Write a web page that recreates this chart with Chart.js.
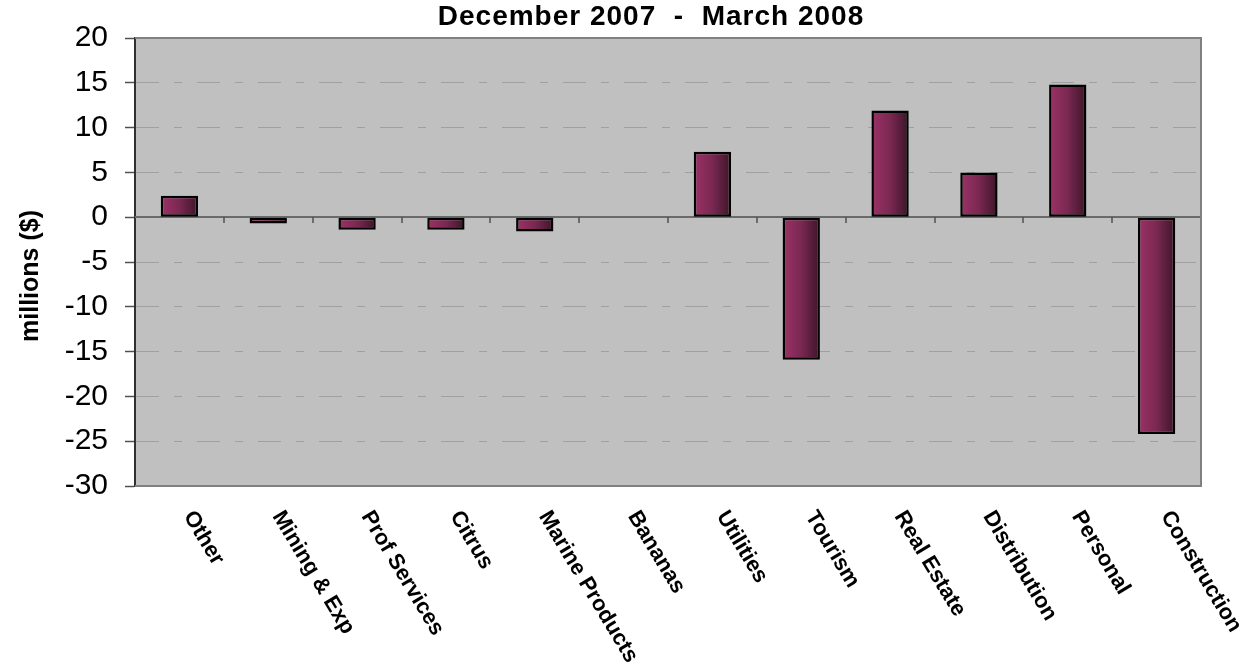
<!DOCTYPE html>
<html lang="en">
<head>
    <meta charset="UTF-8">
    <title>December 2007 - March 2008</title>
    <script src="https://cdn.jsdelivr.net/npm/chart.js"></script>
    <style>
        body { margin: 0; background: #fff; }
    </style>
</head>
<body>
    <canvas id="sectors" width="1244" height="669"></canvas>

<script>
    // data
    const sectors = ['Other', 'Mining & Exp', 'Prof Services', 'Citrus', 'Marine Products', 'Bananas',
        'Utilities', 'Tourism', 'Real Estate', 'Distribution', 'Personal', 'Construction'];
    const change = [2.4, -0.7, -1.4, -1.4, -1.6, 0, 7.3, -15.9, 11.9, 5.0, 14.8, -24.2];
    const yMin = -30;
    const yMax = 20;
    const yStep = 5;
    const chartTitle = 'December 2007  -  March 2008';
    const yTitle = 'millions ($)';

    const FONT = '"Liberation Sans", Arial, sans-serif';
    const BAR_PCT = 0.42;

    // horizontal purple gradient, one per bar
    function barFill(c) {
        let chart = c.chart;
        let x = chart.scales.x;
        if (!chart.chartArea || !x || c.dataIndex === undefined) {
            return '#7a2852';
        }
        let cx = x.getPixelForValue(c.dataIndex);
        let half = (chart.chartArea.right - chart.chartArea.left) / sectors.length * BAR_PCT / 2;
        let g = chart.ctx.createLinearGradient(cx - half, 0, cx + half, 0);
        g.addColorStop(0, '#9c3266');
        g.addColorStop(0.5, '#7a2852');
        g.addColorStop(1, '#3c1527');
        return g;
    }

    const excelLook = {
        id: 'excelLook',
        beforeDraw(chart) {
            let { ctx, chartArea: a } = chart;
            ctx.save();
            ctx.fillStyle = '#c0c0c0';
            ctx.fillRect(a.left, a.top, a.right - a.left, a.bottom - a.top);
            ctx.restore();
        },
        beforeDatasetsDraw(chart) {
            let { ctx, chartArea: a, scales: { x, y } } = chart;
            let y0 = Math.round(y.getPixelForValue(0));
            ctx.save();
            ctx.strokeStyle = '#6a6a6a';
            ctx.lineWidth = 2;
            ctx.beginPath();
            ctx.moveTo(a.left, y0);
            ctx.lineTo(a.right, y0);
            ctx.stroke();
            // small marks between categories
            ctx.strokeStyle = '#505050';
            ctx.lineWidth = 1.5;
            for (let i = 1; i <= sectors.length; i++) {
                let xb = Math.round(x.getPixelForValue(i - 0.5));
                ctx.beginPath();
                ctx.moveTo(xb, y0);
                ctx.lineTo(xb, y0 + 6);
                ctx.stroke();
            }
            ctx.restore();
        },
        afterDraw(chart) {
            let { ctx, chartArea: a, scales: { x } } = chart;
            ctx.save();

            // frame (top, right, bottom)
            ctx.strokeStyle = '#808080';
            ctx.lineWidth = 2;
            ctx.beginPath();
            ctx.moveTo(a.left, a.top);
            ctx.lineTo(a.right, a.top);
            ctx.lineTo(a.right, a.bottom);
            ctx.lineTo(a.left, a.bottom);
            ctx.stroke();

            // title
            ctx.fillStyle = '#000';
            ctx.font = 'bold 28px ' + FONT;
            ctx.textAlign = 'center';
            ctx.textBaseline = 'alphabetic';
            ctx.letterSpacing = '1px';
            ctx.fillText(chartTitle, 651, 25);
            ctx.letterSpacing = '0px';

            // y axis title
            ctx.save();
            ctx.translate(31, 276);
            ctx.rotate(-Math.PI / 2);
            ctx.font = 'bold 25px ' + FONT;
            ctx.textBaseline = 'middle';
            ctx.fillText(yTitle, 0, 0);
            ctx.restore();

            // slanted category labels
            ctx.font = 'bold 22px ' + FONT;
            ctx.textAlign = 'left';
            ctx.textBaseline = 'middle';
            sectors.forEach(function (name, i) {
                let cx = x.getPixelForValue(i);
                ctx.save();
                ctx.translate(cx + 9, a.bottom + 27);
                ctx.rotate(59 * Math.PI / 180);
                ctx.fillText(name, 0, 0);
                ctx.restore();
            });
            ctx.restore();
        }
    };

    let ctx = document.getElementById('sectors').getContext('2d');
    let sectorChart = new Chart(ctx, {
        type: 'bar',
        data: {
            labels: sectors,
            datasets: [{
                data: change,
                backgroundColor: barFill,
                borderColor: '#000',
                borderWidth: 2.5,
                borderSkipped: false,
                barPercentage: BAR_PCT,
                categoryPercentage: 1
            }]
        },
        options: {
            responsive: false,
            animation: false,
            layout: {
                padding: { left: 11, right: 43, top: 38, bottom: 0 }
            },
            scales: {
                x: {
                    afterFit(s) { s.height = 183; },
                    ticks: { display: false },
                    grid: { display: false },
                    border: { display: false }
                },
                y: {
                    min: yMin,
                    max: yMax,
                    afterFit(s) { s.width = 124; },
                    ticks: {
                        stepSize: yStep,
                        padding: 17,
                        color: '#000',
                        font: { family: FONT, size: 30 }
                    },
                    grid: {
                        color: function (c) {
                            if (c.tick && [yMin, yMax, 0].includes(c.tick.value)) {
                                return 'rgba(0,0,0,0)';
                            }
                            return '#a0a0a0';
                        },
                        lineWidth: 1,
                        tickColor: '#505050',
                        tickLength: 10,
                        tickWidth: 1.5
                    },
                    border: { color: '#303030', width: 2, dash: [23, 15, 8, 15] }
                }
            },
            plugins: {
                legend: { display: false },
                title: { display: false },
                tooltip: { enabled: false }
            }
        },
        plugins: [excelLook]
    });
</script>
</body>
</html>
